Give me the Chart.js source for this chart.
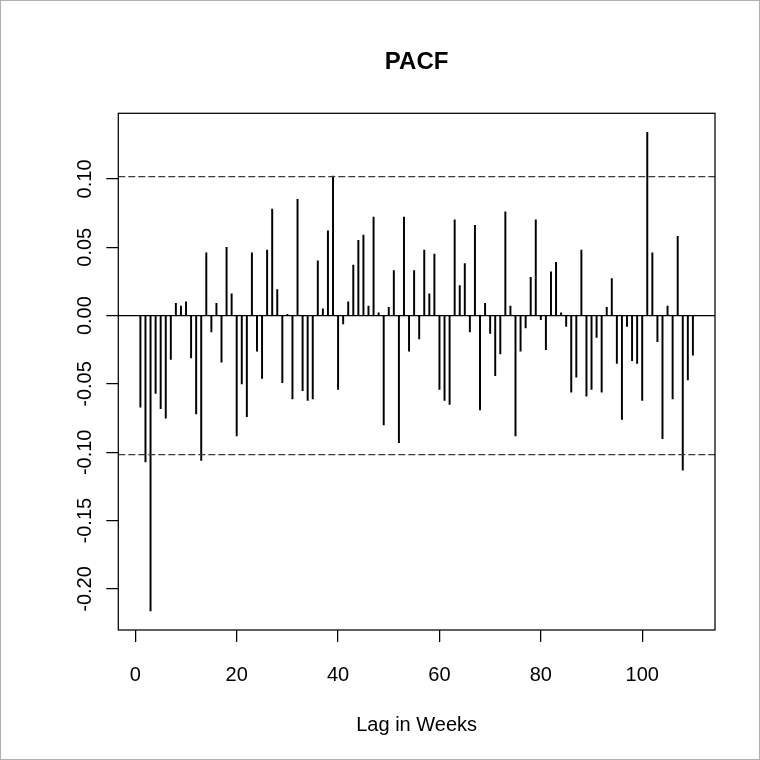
<!DOCTYPE html>
<html>
<head>
<meta charset="utf-8">
<title>PACF</title>
<script src="https://cdn.jsdelivr.net/npm/chart.js@4.4.1/dist/chart.umd.min.js"></script>
<style>
  html, body { margin: 0; padding: 0; background: #fff; }
  #wrap { width: 760px; height: 760px; }
  canvas { display: block; }
</style>
</head>
<body>
<div id="wrap"><canvas id="c" width="760" height="760"></canvas></div>
<script>
// ---- data ----
const lags = [
  1, 2, 3, 4, 5, 6, 7, 8, 9, 10,
  11, 12, 13, 14, 15, 16, 17, 18, 19, 20,
  21, 22, 23, 24, 25, 26, 27, 28, 29, 30,
  31, 32, 33, 34, 35, 36, 37, 38, 39, 40,
  41, 42, 43, 44, 45, 46, 47, 48, 49, 50,
  51, 52, 53, 54, 55, 56, 57, 58, 59, 60,
  61, 62, 63, 64, 65, 66, 67, 68, 69, 70,
  71, 72, 73, 74, 75, 76, 77, 78, 79, 80,
  81, 82, 83, 84, 85, 86, 87, 88, 89, 90,
  91, 92, 93, 94, 95, 96, 97, 98, 99, 100,
  101, 102, 103, 104, 105, 106, 107, 108, 109, 110
];
const pacfValues = [
  -0.067, -0.107, -0.216, -0.057, -0.068, -0.075, -0.032, 0.009, 0.007, 0.010,
  -0.031, -0.072, -0.106, 0.046, -0.012, 0.009, -0.034, 0.050, 0.016, -0.088,
  -0.050, -0.074, 0.046, -0.026, -0.046, 0.048, 0.078, 0.019, -0.049, 0.001,
  -0.061, 0.085, -0.055, -0.062, -0.061, 0.040, 0.005, 0.062, 0.102, -0.054,
  -0.006, 0.010, 0.037, 0.055, 0.059, 0.007, 0.072, 0.002, -0.080, 0.006,
  0.033, -0.093, 0.072, -0.026, 0.033, -0.017, 0.048, 0.016, 0.045, -0.054,
  -0.062, -0.065, 0.070, 0.022, 0.038, -0.012, 0.066, -0.069, 0.009, -0.013,
  -0.044, -0.028, 0.076, 0.007, -0.088, -0.026, -0.009, 0.028, 0.070, -0.003,
  -0.025, 0.032, 0.039, 0.002, -0.008, -0.056, -0.045, 0.048, -0.059, -0.054,
  -0.016, -0.056, 0.006, 0.027, -0.035, -0.076, -0.008, -0.033, -0.035, -0.062,
  0.134, 0.046, -0.019, -0.090, 0.007, -0.061, 0.058, -0.113, -0.047, -0.029
];
const ciBound = 0.1017;
const xTickValues = [0, 20, 40, 60, 80, 100];
const yTickValues = [-0.20, -0.15, -0.10, -0.05, 0.00, 0.05, 0.10];
const xLimits = [-3.36, 114.36];
const yLimits = [-0.230, 0.148];
const titleText = 'PACF';
const xAxisTitle = 'Lag in Weeks';

// ---- chart ----
const FONT = "'Liberation Sans', Arial, Helvetica, sans-serif";
const LW = 1.25;

const boxPlugin = {
  id: 'rbox',
  beforeDraw(chart) {
    const c = chart.ctx;
    c.save();
    c.fillStyle = '#fff';
    c.fillRect(0, 0, chart.width, chart.height);
    c.restore();
  },
  afterDraw(chart) {
    const c = chart.ctx;
    const a = chart.chartArea;
    c.save();
    c.strokeStyle = '#000';
    c.lineWidth = LW;
    c.strokeRect(a.left, a.top, a.right - a.left, a.bottom - a.top);
    c.strokeStyle = '#b0b0b0';
    c.lineWidth = 1;
    c.strokeRect(0.5, 0.5, chart.width - 1, chart.height - 1);
    c.restore();
  }
};

const hLine = (yv, dash, color) => ({
  type: 'line',
  data: [{ x: xLimits[0], y: yv }, { x: xLimits[1], y: yv }],
  borderColor: color,
  borderWidth: LW,
  borderDash: dash,
  pointRadius: 0,
  fill: false,
  order: 1
});

new Chart(document.getElementById('c'), {
  type: 'bar',
  data: {
    datasets: [
      {
        type: 'bar',
        data: lags.map((l, i) => ({ x: l, y: [0, pacfValues[i]] })),
        backgroundColor: '#000',
        borderWidth: 0,
        barThickness: 1.3,
        order: 2
      },
      hLine(ciBound, [7, 3], '#3a3a3a'),
      hLine(-ciBound, [7, 3], '#3a3a3a'),
      hLine(0, [], '#000')
    ]
  },
  options: {
    responsive: false,
    animation: false,
    devicePixelRatio: 1,
    layout: { padding: { left: 0, right: 45, top: 0, bottom: 0 } },
    plugins: {
      legend: { display: false },
      tooltip: { enabled: false },
      title: { display: false }
    },
    scales: {
      x: {
        type: 'linear',
        min: xLimits[0],
        max: xLimits[1],
        offset: false,
        afterBuildTicks: s => { s.ticks = xTickValues.map(v => ({ value: v })); },
        afterFit: s => { s.height = 130; },
        ticks: {
          color: '#000',
          font: { family: FONT, size: 20 },
          padding: 21,
          maxRotation: 0,
          autoSkip: false,
          callback: v => String(v)
        },
        grid: {
          display: true,
          offset: false,
          drawOnChartArea: false,
          drawTicks: true,
          tickLength: 12,
          color: '#000',
          lineWidth: LW
        },
        border: { display: false },
        title: {
          display: true,
          text: xAxisTitle,
          color: '#000',
          font: { family: FONT, size: 20, lineHeight: 1.2 },
          padding: { top: 0, bottom: 23 }
        }
      },
      xTop: {
        axis: 'x',
        type: 'linear',
        position: 'top',
        min: xLimits[0],
        max: xLimits[1],
        offset: false,
        afterFit: s => { s.height = 113.3; },
        ticks: { display: false },
        grid: { display: false },
        border: { display: false },
        title: {
          display: true,
          text: titleText,
          color: '#000',
          font: { family: FONT, size: 24, weight: 'bold', lineHeight: 1.2 },
          padding: { top: 47.6, bottom: 0 }
        }
      },
      y: {
        min: yLimits[0],
        max: yLimits[1],
        afterBuildTicks: s => { s.ticks = yTickValues.map(v => ({ value: v })); },
        afterFit: s => { s.width = 118.3; },
        ticks: {
          color: '#000',
          font: { family: FONT, size: 20 },
          padding: -2,
          crossAlign: 'center',
          minRotation: 90,
          maxRotation: 90,
          autoSkip: false,
          callback: v => Number(v).toFixed(2)
        },
        grid: {
          display: true,
          drawOnChartArea: false,
          drawTicks: true,
          tickLength: 12,
          color: '#000',
          lineWidth: LW
        },
        border: { display: false }
      }
    }
  },
  plugins: [boxPlugin]
});
</script>
</body>
</html>
